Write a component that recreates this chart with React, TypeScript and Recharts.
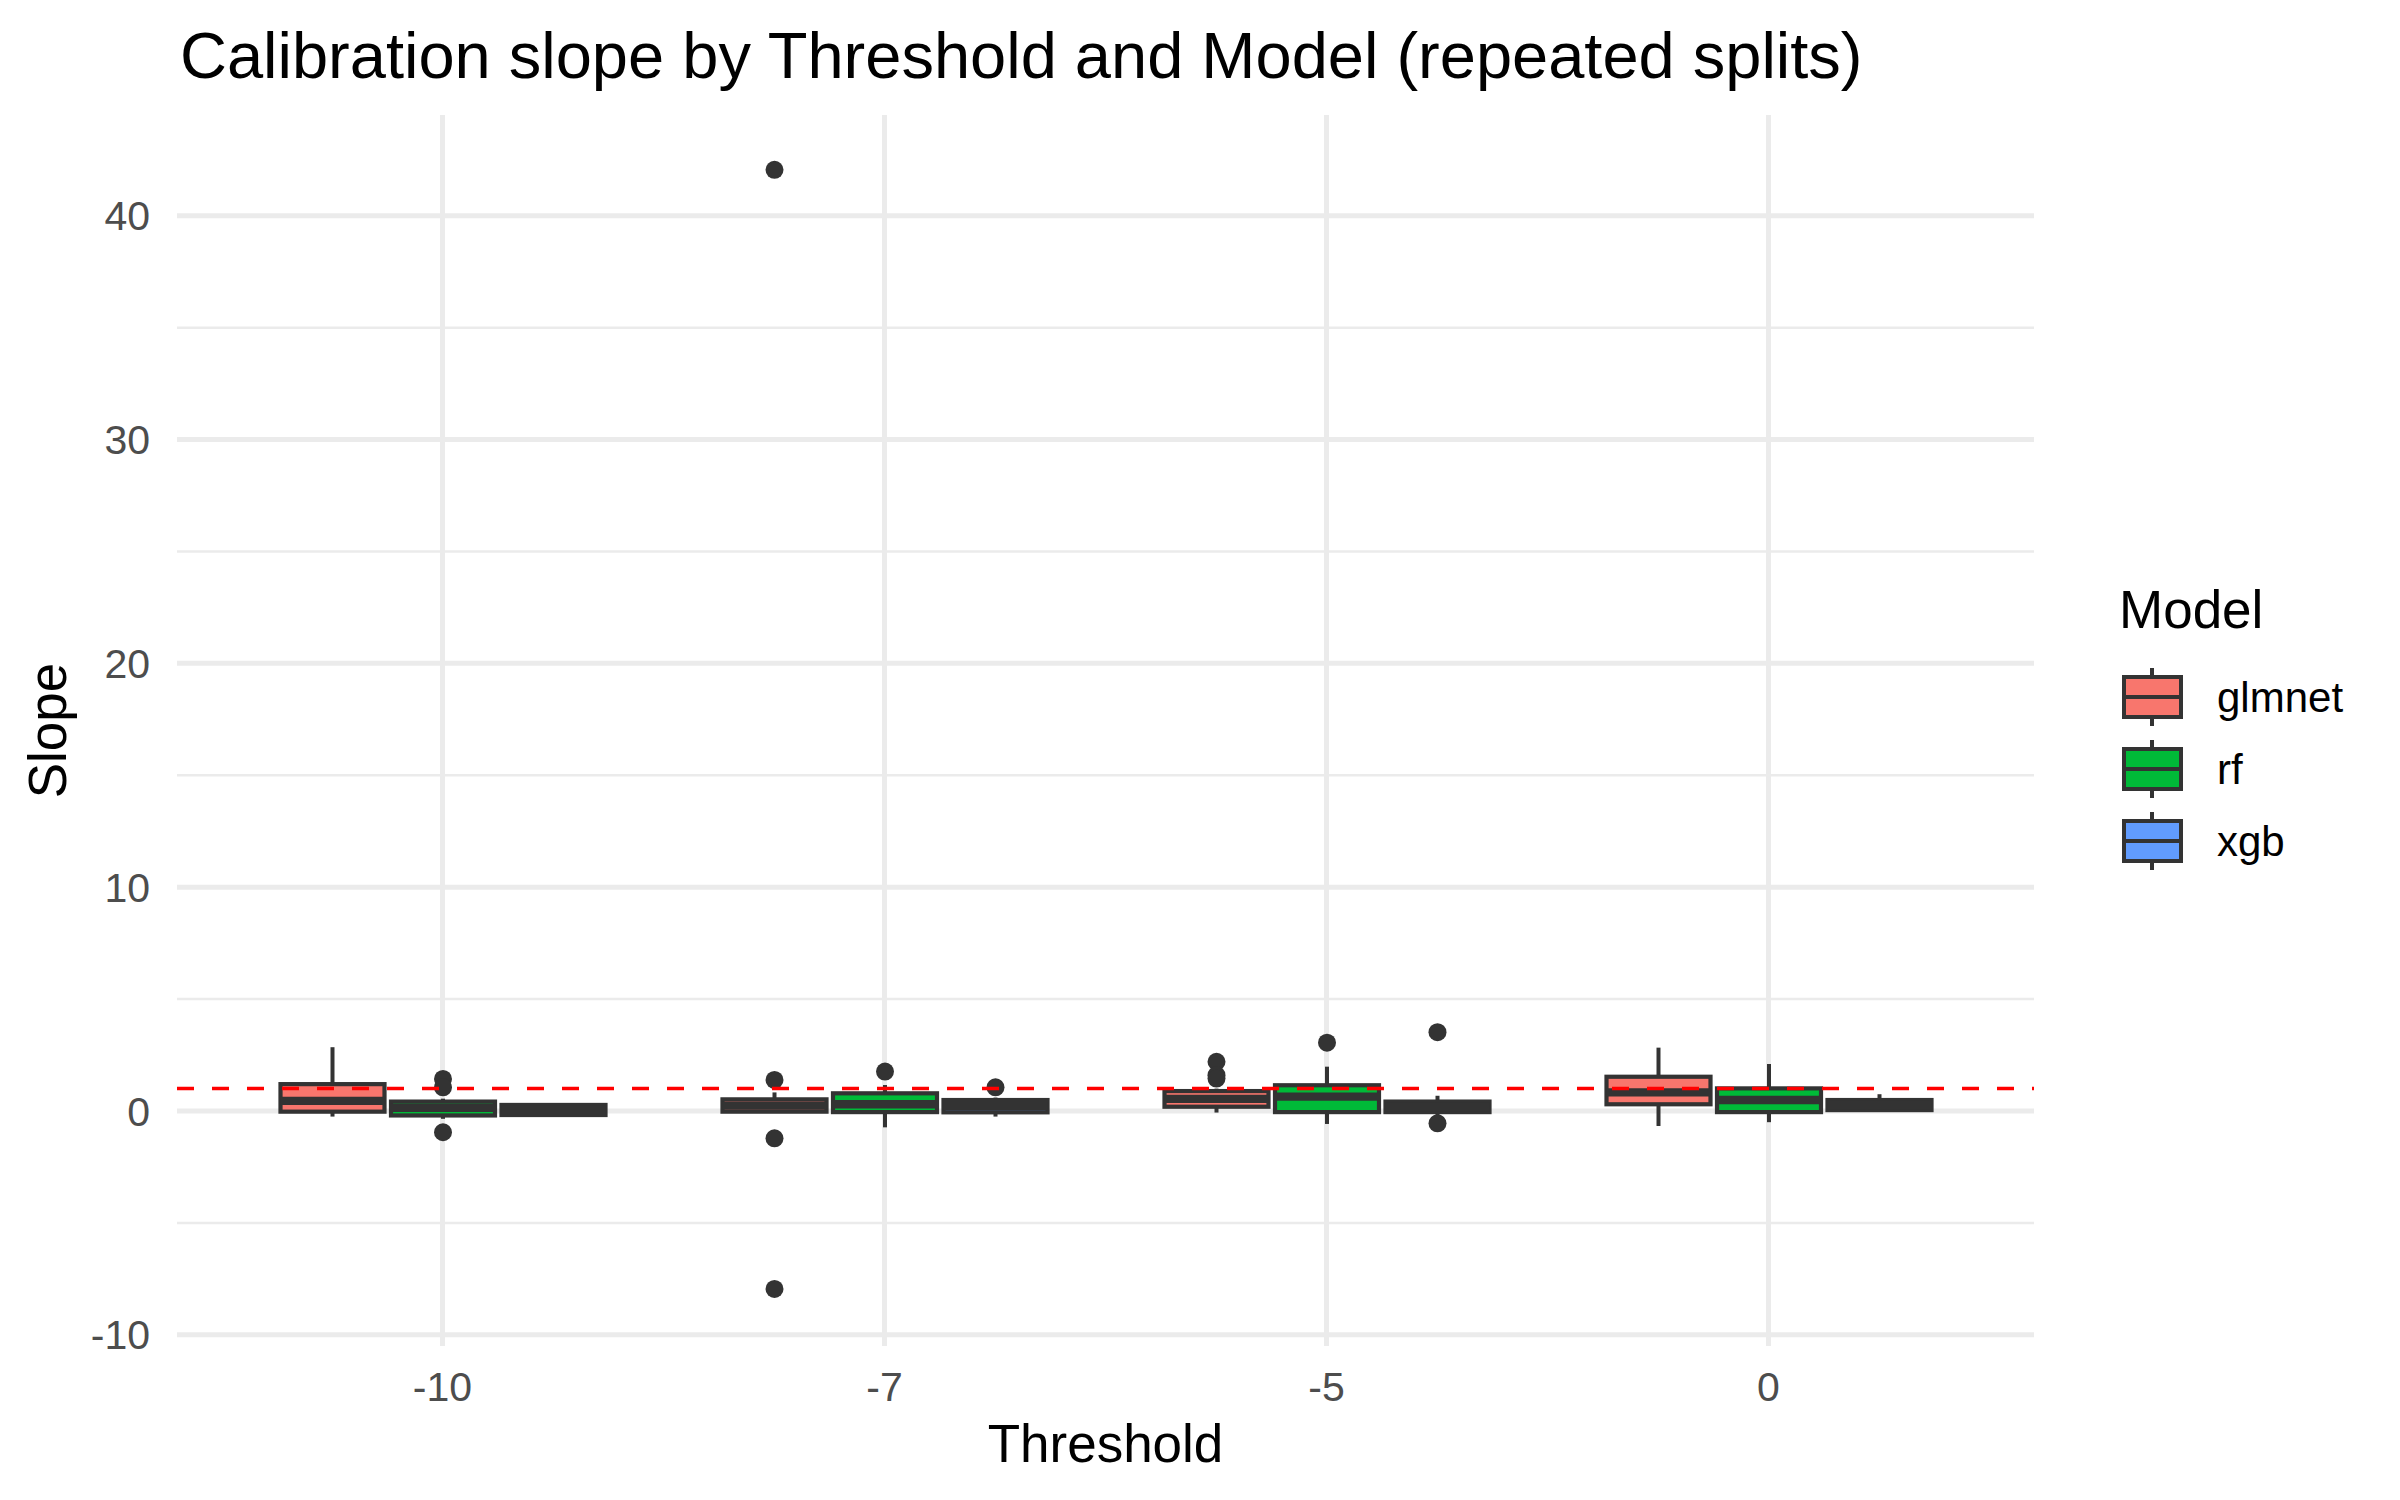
import React from "react";
import {
  ComposedChart,
  Bar,
  XAxis,
  YAxis,
  CartesianGrid,
  ReferenceLine,
  Legend,
} from "recharts";

const thresholds = ["-10", "-7", "-5", "0"];
const models = ["glmnet", "rf", "xgb"];
const modelColors = ["#F8766D", "#00BA38", "#619CFF"];

// [lower whisker, Q1, median, Q3, upper whisker], one per threshold
const glmnetBoxes = [
  [-0.25, -0.03, 0.45, 1.2, 2.85],
  [-0.07, -0.03, 0.24, 0.52, 0.83],
  [-0.07, 0.19, 0.54, 0.89, 1.0],
  [-0.67, 0.3, 0.83, 1.53, 2.83],
];
const rfBoxes = [
  [-0.35, -0.2, 0.14, 0.42, 0.55],
  [-0.73, -0.05, 0.3, 0.79, 1.16],
  [-0.58, -0.05, 0.64, 1.15, 1.98],
  [-0.5, -0.05, 0.49, 1.01, 2.1],
];
const xgbBoxes = [
  [-0.25, -0.18, 0.05, 0.27, 0.3],
  [-0.25, -0.06, 0.21, 0.49, 0.6],
  [-0.3, -0.05, 0.18, 0.42, 0.68],
  [0.0, 0.04, 0.27, 0.49, 0.75],
];

const glmnetOutliers = [[], [1.39, -1.22, 42.05, -7.95], [2.2, 1.6, 1.45], []];
const rfOutliers = [[1.43, 1.06, -0.95], [1.76], [3.05], []];
const xgbOutliers = [[], [1.06], [3.52, -0.55], []];

const yTicks = [-10, 0, 10, 20, 30, 40];
const yMinorTicks = [-5, 5, 15, 25, 35];

const boxesByModel = [glmnetBoxes, rfBoxes, xgbBoxes];
const outliersByModel = [glmnetOutliers, rfOutliers, xgbOutliers];

const data = thresholds.map((threshold, i) => {
  const row: Record<string, any> = { threshold };
  models.forEach((m, j) => {
    row[m] = { box: boxesByModel[j][i], out: outliersByModel[j][i] };
  });
  return row;
});

const INK = "#333333";
const FONT = "'Liberation Sans', Arial, Helvetica, sans-serif";

const makeBoxShape = (model: string, color: string) => (props: any) => {
  const { x, y, width, height, payload } = props;
  const stats = payload[model];
  const [lo, q1, med, q3, hi] = stats.box;
  const top = Math.min(y, y + height);
  const h = Math.abs(height);
  const ppu = h / (hi - lo);
  const py = (v: number) => top + (hi - v) * ppu;
  const cx = x + width / 2;

  return (
    <g>
      <line x1={cx} x2={cx} y1={py(hi)} y2={py(q3)} stroke={INK} strokeWidth={4} />
      <line x1={cx} x2={cx} y1={py(q1)} y2={py(lo)} stroke={INK} strokeWidth={4} />
      <rect
        x={x}
        y={py(q3)}
        width={width}
        height={py(q1) - py(q3)}
        fill={color}
        stroke={INK}
        strokeWidth={4.2}
      />
      <line x1={x} x2={x + width} y1={py(med)} y2={py(med)} stroke={INK} strokeWidth={8.4} />
      {stats.out.map((v: number, k: number) => (
        <circle key={k} cx={cx} cy={py(v)} r={9} fill={INK} />
      ))}
    </g>
  );
};

const LegendBox = () => (
  <svg width={280} height={320} style={{ fontFamily: FONT }}>
    <text x={19} y={58} fontSize={53} fill="#000">
      Model
    </text>
    {models.map((m, i) => {
      const cy = 127 + i * 72;
      return (
        <g key={m}>
          <line x1={52} x2={52} y1={cy - 29} y2={cy + 29} stroke={INK} strokeWidth={4} />
          <rect x={24} y={cy - 20} width={57} height={40} fill={modelColors[i]} stroke={INK} strokeWidth={4} />
          <line x1={24} x2={81} y1={cy} y2={cy} stroke={INK} strokeWidth={4} />
          <text x={117} y={cy + 15} fontSize={42} fill="#000">
            {m}
          </text>
        </g>
      );
    })}
  </svg>
);

export default function App() {
  return (
    <div
      style={{
        position: "absolute",
        left: 0,
        top: 0,
        width: 2400,
        height: 1500,
        background: "#fff",
        fontFamily: FONT,
      }}
    >
      <div
        style={{
          position: "absolute",
          left: 180,
          top: 23,
          fontSize: 65,
          lineHeight: 1,
          color: "#000",
          whiteSpace: "nowrap",
        }}
      >
        Calibration slope by Threshold and Model (repeated splits)
      </div>
      <ComposedChart
        width={2400}
        height={1500}
        data={data}
        margin={{ top: 115, right: 366, bottom: 14, left: 10 }}
        barSize={104}
        barGap={6.5}
      >
        <CartesianGrid
          horizontal={true}
          vertical={false}
          horizontalValues={yMinorTicks}
          syncWithTicks
          stroke="#EBEBEB"
          strokeWidth={2.5}
        />
        <CartesianGrid syncWithTicks stroke="#EBEBEB" strokeWidth={5} />
        <XAxis
          dataKey="threshold"
          axisLine={false}
          tickLine={false}
          tickSize={0}
          tickMargin={26}
          height={140}
          padding={{ left: 44.5, right: 44.5 }}
          tick={{ fontSize: 41, fill: "#4d4d4d" }}
          label={{
            value: "Threshold",
            position: "insideBottom",
            offset: 24,
            style: { fontSize: 53, fill: "#000" },
          }}
        />
        <YAxis
          type="number"
          domain={[-10.5, 44.5]}
          allowDataOverflow
          ticks={yTicks}
          axisLine={false}
          tickLine={false}
          tickSize={0}
          tickMargin={27}
          width={167}
          tick={{ fontSize: 41, fill: "#4d4d4d" }}
          label={{
            value: "Slope",
            angle: -90,
            position: "insideLeft",
            offset: 37,
            textAnchor: "middle",
            style: { fontSize: 53, fill: "#000", textAnchor: "middle" },
          }}
        />
        {models.map((m, i) => (
          <Bar
            key={m}
            dataKey={(d: any) => [d[m].box[0], d[m].box[4]]}
            name={m}
            fill={modelColors[i]}
            shape={makeBoxShape(m, modelColors[i])}
            isAnimationActive={false}
          />
        ))}
        <ReferenceLine y={1} stroke="#FF0000" strokeWidth={3.5} strokeDasharray="17 18" />
        <Legend
          layout="vertical"
          align="center"
          verticalAlign="middle"
          content={() => <LegendBox />}
          wrapperStyle={{ left: 2100, top: 570, width: 280, height: 320 }}
        />
      </ComposedChart>
    </div>
  );
}
